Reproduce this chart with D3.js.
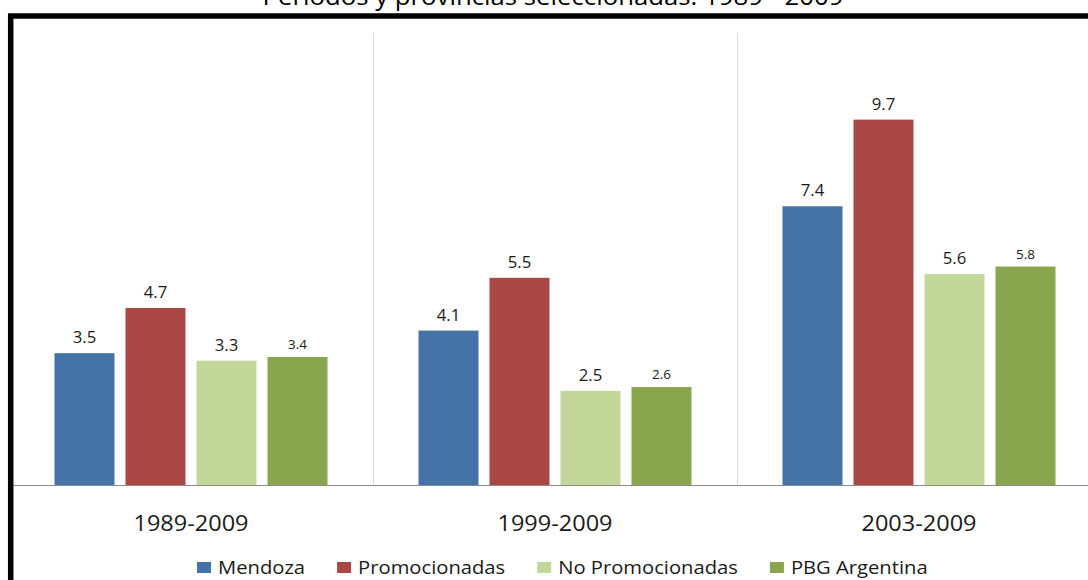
<!DOCTYPE html>
<html>
<head>
<meta charset="utf-8">
<script src="https://cdn.jsdelivr.net/npm/d3@7"></script>
<style>
  body { margin: 0; background: #fff; }
  text { font-family: "Open Sans", sans-serif; fill: #1a1a1a; }
</style>
</head>
<body>
<div id="chart"></div>
<script>
// datos del grafico
var titulo = "Períodos y provincias seleccionadas. 1989 - 2009";
var periodos = ["1989-2009", "1999-2009", "2003-2009"];
var series = ["Mendoza", "Promocionadas", "No Promocionadas", "PBG Argentina"];
var mendoza = [3.5, 4.1, 7.4];
var promocionadas = [4.7, 5.5, 9.7];
var noPromocionadas = [3.3, 2.5, 5.6];
var pbgArgentina = [3.4, 2.6, 5.8];
var colores = ["#4572A7", "#AA4643", "#C4D79B", "#89A54E"];

var valores = [mendoza, promocionadas, noPromocionadas, pbgArgentina];

var W = 1088, H = 580;
var SX = 1.12; // la fuente original esta algo estirada a lo ancho

var svg = d3.select("#chart").append("svg")
    .attr("width", W)
    .attr("height", H);

svg.append("rect").attr("width", W).attr("height", H).attr("fill", "#fff");

var x0 = d3.scaleBand()
    .domain(periodos)
    .range([9, 1101]);

var x1 = d3.scaleBand()
    .domain(series)
    .range([0, x0.bandwidth()])
    .paddingInner(0.155)
    .paddingOuter(0.641);

var y = d3.scaleLinear()
    .domain([0, 12])
    .range([485, 33]);

// titulo (cortado arriba)
svg.append("text")
    .attr("text-anchor", "middle")
    .attr("transform", "translate(553,5) scale(" + SX + ",1)")
    .style("font-size", "23px")
    .style("fill", "#000")
    .text(titulo);

// separadores verticales entre periodos
svg.selectAll("line.sep")
    .data(periodos.slice(1))
    .enter().append("line")
    .attr("class", "sep")
    .attr("x1", function(d) { return Math.round(x0(d)) + 0.5; })
    .attr("x2", function(d) { return Math.round(x0(d)) + 0.5; })
    .attr("y1", y(12))
    .attr("y2", y(0))
    .attr("stroke", "#d9d9d9")
    .attr("stroke-width", 1);

// barras
var grupos = svg.selectAll("g.periodo")
    .data(periodos)
    .enter().append("g")
    .attr("class", "periodo")
    .attr("transform", function(d) { return "translate(" + x0(d) + ",0)"; });

grupos.each(function(p, i) {
    var g = d3.select(this);
    var filas = series.map(function(s, k) {
        return { serie: s, k: k, val: valores[k][i] };
    });
    g.selectAll("rect")
        .data(filas)
        .enter().append("rect")
        .attr("x", function(d) { return x1(d.serie); })
        .attr("y", function(d) { return y(d.val); })
        .attr("width", x1.bandwidth())
        .attr("height", function(d) { return y(0) - y(d.val); })
        .attr("fill", function(d) { return colores[d.k]; });

    g.selectAll("text")
        .data(filas)
        .enter().append("text")
        .attr("text-anchor", "middle")
        .attr("transform", function(d) {
            var gap = d.k === 3 ? 8 : 10;
            return "translate(" + (x1(d.serie) + x1.bandwidth() / 2) + "," + (y(d.val) - gap) + ") scale(1.08,1)";
        })
        .style("font-size", function(d) { return d.k === 3 ? "12.5px" : "15.5px"; })
        .text(function(d) { return d3.format(".1f")(d.val); });
});

// eje horizontal
svg.append("line")
    .attr("x1", 13).attr("x2", W)
    .attr("y1", y(0) + 0.5).attr("y2", y(0) + 0.5)
    .attr("stroke", "#8c8c8c")
    .attr("stroke-width", 1);

svg.selectAll("text.cat")
    .data(periodos)
    .enter().append("text")
    .attr("class", "cat")
    .attr("text-anchor", "middle")
    .attr("transform", function(d) {
        return "translate(" + (x0(d) + x0.bandwidth() / 2) + ",531) scale(" + SX + ",1)";
    })
    .style("font-size", "21px")
    .text(function(d) { return d; });

// leyenda
var SXL = 1.11;
var leyenda = svg.append("g").attr("class", "leyenda");
var items = leyenda.selectAll("g")
    .data(series)
    .enter().append("g");
items.append("rect")
    .attr("y", 562)
    .attr("width", 14)
    .attr("height", 11)
    .attr("fill", function(d, i) { return colores[i]; });
items.append("text")
    .attr("transform", "translate(21,574) scale(" + SXL + ",1)")
    .style("font-size", "18.2px")
    .text(function(d) { return d; });

var anchos = [];
items.each(function() {
    anchos.push(21 + this.querySelector("text").getComputedTextLength() * SXL);
});
var sepLeyenda = 32;
var cx = 197;
items.attr("transform", function(d, i) {
    var t = "translate(" + cx + ",0)";
    cx += anchos[i] + sepLeyenda;
    return t;
});

// marco negro grueso
svg.append("rect")
    .attr("x", 10.7)
    .attr("y", 16)
    .attr("width", W + 20)
    .attr("height", H + 20)
    .attr("fill", "none")
    .attr("stroke", "#000")
    .attr("stroke-width", 5.5);
</script>
</body>
</html>
